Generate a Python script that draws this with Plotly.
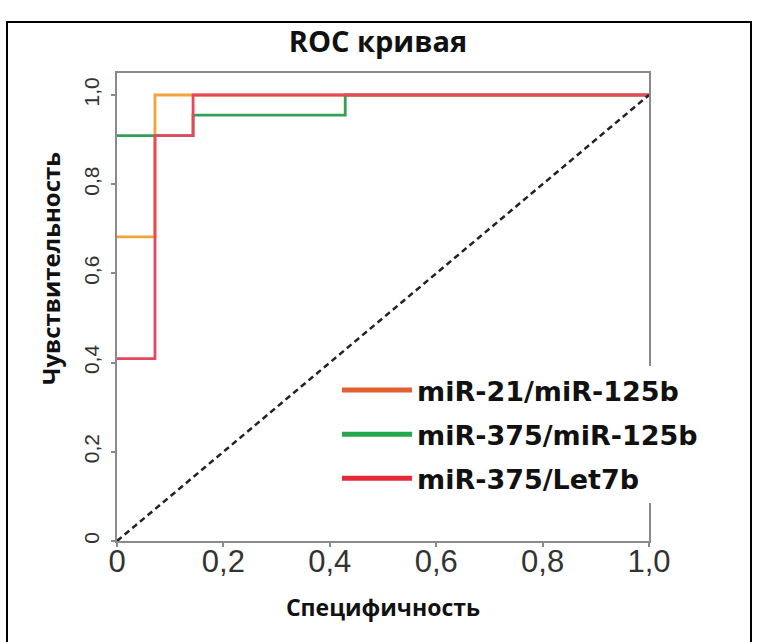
import plotly.graph_objects as go

# ---- data ----
series_names = ["miR-21/miR-125b", "miR-375/miR-125b", "miR-375/Let7b"]
x_mir21 = [0, 0.0714, 0.0714, 1.0]
y_mir21 = [0.682, 0.682, 1.0, 1.0]
x_mir375 = [0, 0.143, 0.143, 0.429, 0.429, 1.0]
y_mir375 = [0.909, 0.909, 0.955, 0.955, 1.0, 1.0]
x_let7b = [0, 0.0714, 0.0714, 0.143, 0.143, 1.0]
y_let7b = [0.409, 0.409, 0.909, 0.909, 1.0, 1.0]
diag_x = [0, 1]
diag_y = [0, 1]
tick_vals = [0, 0.2, 0.4, 0.6, 0.8, 1.0]
tick_text = ["0", "0,2", "0,4", "0,6", "0,8", "1,0"]

curve_colors = ["#F4A23A", "#33A155", "#E8465A"]
legend_colors = ["#E0612F", "#24A84B", "#E42A36"]

W, H = 759, 642
L, R, T, B = 117, W - 649, 73, H - 541
plot_h = H - T - B
y_top = plot_h / (541 - 95)

fig = go.Figure()
for xs, ys, c in zip([x_mir21, x_mir375, x_let7b], [y_mir21, y_mir375, y_let7b], curve_colors):
    fig.add_trace(go.Scatter(x=xs, y=ys, mode="lines", line=dict(color=c, width=2.8),
                             showlegend=False, hoverinfo="skip"))
fig.add_trace(go.Scatter(x=diag_x, y=diag_y, mode="lines",
                         line=dict(color="#222222", width=2.5, dash="6px,4px"),
                         showlegend=False, hoverinfo="skip"))
for i, (n, c) in enumerate(zip(series_names, legend_colors)):
    fig.add_trace(go.Scatter(x=[None], y=[None], mode="lines", name=f"<b>{n}</b>",
                             line=dict(color=c, width=5), legendgroup=f"g{i}"))

axis_common = dict(
    showline=True, linecolor="#8a8a8a", linewidth=2, mirror=True,
    showgrid=False, zeroline=False, ticks="outside", ticklen=4,
    tickcolor="#8a8a8a", tickwidth=1.5,
    tickvals=tick_vals, ticktext=tick_text,
)

fig.update_layout(
    width=W, height=H,
    margin=dict(l=L, r=R, t=T, b=B),
    paper_bgcolor="white", plot_bgcolor="white",
    title=dict(text="<b>ROC кривая</b>", x=(378) / W, xanchor="center",
               y=1 - 42 / H, yanchor="middle",
               font=dict(family="Open Sans", size=29, color="#111111")),
    xaxis=dict(range=[0, 1], **axis_common, ticklabelstandoff=-12,
               tickfont=dict(family="Liberation Sans", size=31, color="#333333"),
               title=dict(text="<b>Специфичность</b>", standoff=22,
                          font=dict(family="Open Sans", size=23, color="#111111"))),
    yaxis=dict(range=[0, y_top], tickangle=-90, **axis_common, ticklabelstandoff=4,
               tickfont=dict(family="Liberation Sans", size=21, color="#333333")),
    annotations=[dict(text="<b>Чувствительность</b>", textangle=-90, showarrow=False,
                      xref="paper", yref="paper", x=(50 - L) / 532, y=(541 - 269) / plot_h,
                      xanchor="center", yanchor="middle",
                      font=dict(family="Open Sans", size=24, color="#111111"))],
    legend=dict(x=(337 - L) / 532, y=(541 - 366) / plot_h, xanchor="left", yanchor="top",
                bgcolor="white", borderwidth=0, traceorder="grouped", tracegroupgap=6,
                itemwidth=70,
                font=dict(family="DejaVu Sans", size=27, color="#111111")),
    shapes=[dict(type="rect", xref="paper", yref="paper",
                 x0=(7 - L) / 532, x1=(751 - L) / 532,
                 y0=(541 - 660) / plot_h, y1=(541 - 22) / plot_h,
                 line=dict(color="black", width=2), fillcolor="rgba(0,0,0,0)", layer="below")],
)

fig.write_html("out.html")
